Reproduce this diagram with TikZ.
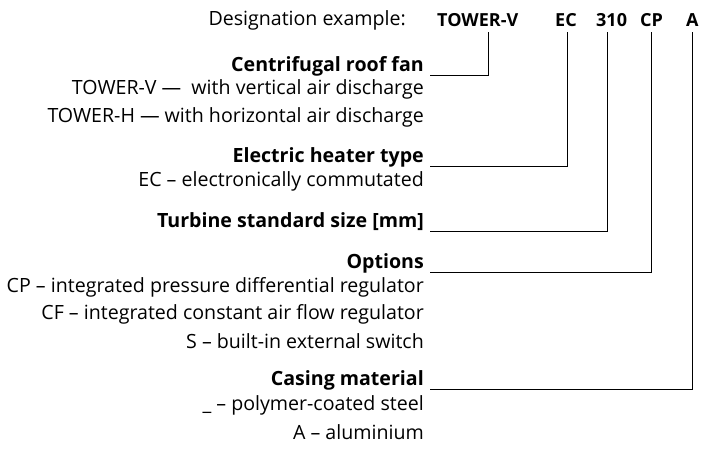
\documentclass[tikz,border=0pt]{standalone}
\usepackage{fontspec}
\setmainfont{Open Sans}
\begin{document}
\begin{tikzpicture}[x=1pt,y=-1pt,
  txt/.style={anchor=east,inner sep=0pt,font=\fontsize{19.6}{22}\selectfont},
  hd/.style={txt,font=\fontsize{19.6}{22}\selectfont\bfseries},
  code/.style={anchor=west,inner sep=0pt,font=\fontsize{18}{20}\selectfont\bfseries},
  lead/.style={draw=black,line width=0.8pt}]
\useasboundingbox (0,0) rectangle (710,454);
\node[txt] (de) at (406,20) {Designation example:};
\node[code] (c1) at (437,20) {TOWER-V};
\node[code] (c2) at (555,20) {EC};
\node[code] (c3) at (596,20) {310};
\node[code] (c4) at (640,20) {CP};
\node[code] (c5) at (686,20) {A};

\node[hd] (h1) at (424,66) {Centrifugal roof fan};
\node[txt] at (424,89) {TOWER-V —\ \ with vertical air discharge};
\node[txt] at (424,117) {TOWER-H — with horizontal air discharge};
\node[hd] (h2) at (424,157) {Electric heater type};
\node[txt] at (424,181) {EC – electronically commutated};
\node[hd] (h3) at (424,222) {Turbine standard size [mm]};
\node[hd] (h4) at (424,263) {Options};
\node[txt] at (424,287) {CP – integrated pressure differential regulator};
\node[txt] at (424,314) {CF – integrated constant air flow regulator};
\node[txt] at (424,341) {S – built-in external switch};
\node[hd] (h5) at (424,380) {Casing material};
\node[txt] at (424,405) {\_ – polymer-coated steel};
\node[txt] at (424,432) {A – aluminium};

\draw[lead] (430,75) -| (488,32);
\draw[lead] (430,166) -| (567,32);
\draw[lead] (430,231) -| (607,32);
\draw[lead] (430,272) -| (651,32);
\draw[lead] (430,389) -| (692,32);
\end{tikzpicture}
\end{document}
